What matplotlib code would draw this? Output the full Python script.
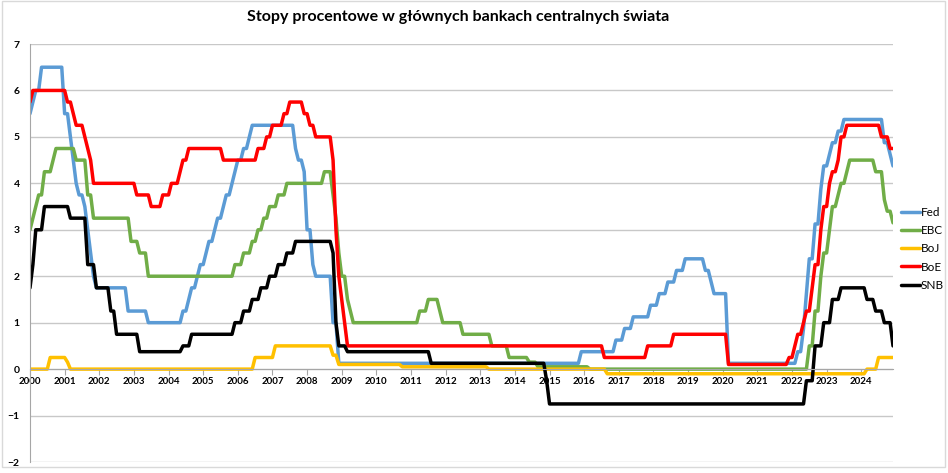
import numpy as np
import pandas as pd
import matplotlib
matplotlib.use('Agg')
import matplotlib.pyplot as plt
from matplotlib.patches import Rectangle

plt.rcParams['font.family'] = ['Lato', 'DejaVu Sans']

# rate changes (month, new level)
fed_dates = ['2000-01', '2000-02', '2000-03', '2000-05', '2001-01', '2001-03', '2001-04',
             '2001-05', '2001-06', '2001-08', '2001-09', '2001-10', '2001-11', '2001-12',
             '2002-11', '2003-06', '2004-06', '2004-08', '2004-09', '2004-11', '2004-12',
             '2005-02', '2005-03', '2005-05', '2005-06', '2005-08', '2005-09', '2005-11',
             '2005-12', '2006-01', '2006-03', '2006-05', '2006-06', '2007-09', '2007-10',
             '2007-12', '2008-01', '2008-03', '2008-04', '2008-10', '2008-12', '2015-12',
             '2016-12', '2017-03', '2017-06', '2017-12', '2018-03', '2018-06', '2018-09',
             '2018-12', '2019-07', '2019-09', '2019-10', '2020-03', '2022-03', '2022-05',
             '2022-06', '2022-07', '2022-09', '2022-11', '2022-12', '2023-02', '2023-03',
             '2023-05', '2023-07', '2024-09', '2024-11', '2024-12']
fed_rates = [5.5, 5.75, 6.0, 6.5, 5.5, 5.0, 4.5,
             4.0, 3.75, 3.5, 3.0, 2.5, 2.0, 1.75,
             1.25, 1.0, 1.25, 1.5, 1.75, 2.0, 2.25,
             2.5, 2.75, 3.0, 3.25, 3.5, 3.75, 4.0,
             4.25, 4.5, 4.75, 5.0, 5.25, 4.75, 4.5,
             4.25, 3.0, 2.25, 2.0, 1.0, 0.125, 0.375,
             0.625, 0.875, 1.125, 1.375, 1.625, 1.875, 2.125,
             2.375, 2.125, 1.875, 1.625, 0.125, 0.375, 0.875,
             1.625, 2.375, 3.125, 3.875, 4.375, 4.625, 4.875,
             5.125, 5.375, 4.875, 4.625, 4.375]

ebc_dates = ['2000-01', '2000-02', '2000-03', '2000-04', '2000-06', '2000-09', '2000-10',
             '2001-05', '2001-09', '2001-11', '2002-12', '2003-03', '2003-06', '2005-12',
             '2006-03', '2006-06', '2006-08', '2006-10', '2006-12', '2007-03', '2007-06',
             '2008-07', '2008-10', '2008-11', '2008-12', '2009-01', '2009-03', '2009-04',
             '2009-05', '2011-04', '2011-07', '2011-11', '2011-12', '2012-07', '2013-05',
             '2013-11', '2014-06', '2014-09', '2016-03', '2022-07', '2022-09', '2022-11',
             '2022-12', '2023-02', '2023-03', '2023-05', '2023-06', '2023-08', '2023-09',
             '2024-06', '2024-09', '2024-10', '2024-12']
ebc_rates = [3.0, 3.25, 3.5, 3.75, 4.25, 4.5, 4.75,
             4.5, 3.75, 3.25, 2.75, 2.5, 2.0, 2.25,
             2.5, 2.75, 3.0, 3.25, 3.5, 3.75, 4.0,
             4.25, 3.75, 3.25, 2.5, 2.0, 1.5, 1.25,
             1.0, 1.25, 1.5, 1.25, 1.0, 0.75, 0.5,
             0.25, 0.15, 0.05, 0.0, 0.5, 1.25, 2.0,
             2.5, 3.0, 3.5, 3.75, 4.0, 4.25, 4.5,
             4.25, 3.65, 3.4, 3.15]

boj_dates = ['2000-01', '2000-08', '2001-02', '2001-03', '2006-07', '2007-02', '2008-10',
             '2008-12', '2010-10', '2013-04', '2016-09', '2024-03', '2024-07']
boj_rates = [0.0, 0.25, 0.15, 0.0, 0.25, 0.5, 0.3,
             0.1, 0.05, 0.0, -0.1, 0.0, 0.25]

boe_dates = ['2000-01', '2000-02', '2001-02', '2001-04', '2001-05', '2001-08', '2001-09',
             '2001-10', '2001-11', '2003-02', '2003-07', '2003-11', '2004-02', '2004-05',
             '2004-06', '2004-08', '2005-08', '2006-08', '2006-11', '2007-01', '2007-05',
             '2007-07', '2007-12', '2008-02', '2008-04', '2008-10', '2008-11', '2008-12',
             '2009-01', '2009-02', '2009-03', '2016-08', '2017-11', '2018-08', '2020-03',
             '2021-12', '2022-02', '2022-03', '2022-05', '2022-06', '2022-08', '2022-09',
             '2022-11', '2022-12', '2023-02', '2023-03', '2023-05', '2023-06', '2023-08',
             '2024-08', '2024-11']
boe_rates = [5.75, 6.0, 5.75, 5.5, 5.25, 5.0, 4.75,
             4.5, 4.0, 3.75, 3.5, 3.75, 4.0, 4.25,
             4.5, 4.75, 4.5, 4.75, 5.0, 5.25, 5.5,
             5.75, 5.5, 5.25, 5.0, 4.5, 3.0, 2.0,
             1.5, 1.0, 0.5, 0.25, 0.5, 0.75, 0.1,
             0.25, 0.5, 0.75, 1.0, 1.25, 1.75, 2.25,
             3.0, 3.5, 4.0, 4.25, 4.5, 5.0, 5.25,
             5.0, 4.75]

snb_dates = ['2000-01', '2000-02', '2000-03', '2000-06', '2001-03', '2001-09', '2001-12',
             '2002-05', '2002-07', '2003-03', '2004-06', '2004-09', '2005-12', '2006-03',
             '2006-06', '2006-09', '2006-12', '2007-03', '2007-06', '2007-09', '2008-10',
             '2008-11', '2008-12', '2009-03', '2011-08', '2014-12', '2015-01', '2022-06',
             '2022-09', '2022-12', '2023-03', '2023-06', '2024-03', '2024-06', '2024-09',
             '2024-12']
snb_rates = [1.75, 2.25, 3.0, 3.5, 3.25, 2.25, 1.75,
             1.25, 0.75, 0.375, 0.5, 0.75, 1.0, 1.25,
             1.5, 1.75, 2.0, 2.25, 2.5, 2.75, 2.5,
             1.0, 0.5, 0.375, 0.125, -0.25, -0.75, -0.25,
             0.5, 1.0, 1.5, 1.75, 1.5, 1.25, 1.0,
             0.5]

series = [('Fed', fed_dates, fed_rates, '#5B9BD5'),
          ('EBC', ebc_dates, ebc_rates, '#70AD47'),
          ('BoJ', boj_dates, boj_rates, '#FFC000'),
          ('BoE', boe_dates, boe_rates, '#FF0000'),
          ('SNB', snb_dates, snb_rates, '#000000')]

months = pd.period_range('2000-01', '2024-12', freq='M')
x = months.year + (months.month - 1) / 12


def monthly(dates, rates):
    s = pd.Series(rates, index=pd.PeriodIndex(dates, freq='M'))
    return s.reindex(months).ffill().values


fig = plt.figure(figsize=(9.48, 4.73), dpi=100)
ax = fig.add_axes([30 / 948, 11 / 473, 863 / 948, 418 / 473])

for name, d, r, c in series:
    ax.plot(x, monthly(d, r), color=c, lw=2.5, label=name,
            solid_joinstyle='round', solid_capstyle='round')

ax.set_xlim(x[0], x[-1])
ax.set_ylim(-2, 7)
ax.set_yticks(range(-2, 8))
ax.set_xticks(range(2000, 2025))
ax.set_xticklabels([str(y) for y in range(2000, 2025)])
ax.grid(axis='y', color='#C8C8C8', lw=1)
ax.set_axisbelow(True)

for s in ['top', 'right']:
    ax.spines[s].set_visible(False)
ax.spines['bottom'].set_position(('data', 0))
ax.spines['bottom'].set_color('#A6A6A6')
ax.spines['left'].set_color('#A6A6A6')
ax.tick_params(axis='x', length=4, color='#A6A6A6', pad=2,
               labelsize=7, labelcolor='black')
ax.tick_params(axis='y', length=0, pad=7.5, labelsize=7.5)
for lab in ax.get_xticklabels() + ax.get_yticklabels():
    lab.set_fontweight('bold')

fig.text(458 / 948, 1 - 17 / 473,
         'Stopy procentowe w głównych bankach centralnych świata',
         ha='center', va='center', fontsize=11.5, fontweight='bold')

fig.legend(loc='center left', bbox_to_anchor=(896 / 948, 1 - 249 / 473),
           frameon=False, fontsize=8.5, handlelength=1.6, handletextpad=0.1,
           labelspacing=0.6, borderaxespad=0)

fig.add_artist(Rectangle((2 / 948, 6 / 473), 943 / 948, 466 / 473,
                         transform=fig.transFigure, fill=False,
                         ec='#D9D9D9', lw=1))

fig.savefig('out.png', dpi=100)
